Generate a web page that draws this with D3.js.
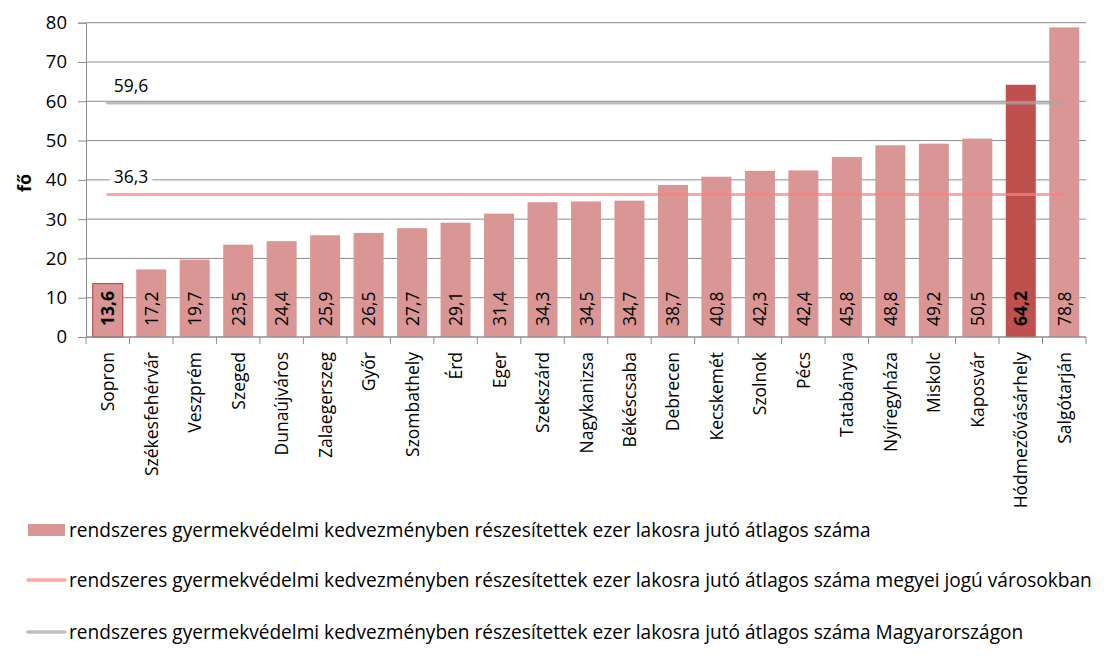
<!DOCTYPE html>
<html><head><meta charset="utf-8">
<script src="https://cdn.jsdelivr.net/npm/d3@7"></script>
<style>body{margin:0;background:#fff}svg{display:block}text{font-family:"Open Sans",sans-serif;fill:#000}</style>
</head><body><svg id="c" width="1111" height="659"></svg>
<script>
const cities=["Sopron","Székesfehérvár","Veszprém","Szeged","Dunaújváros","Zalaegerszeg","Győr","Szombathely","Érd","Eger","Szekszárd","Nagykanizsa","Békéscsaba","Debrecen","Kecskemét","Szolnok","Pécs","Tatabánya","Nyíregyháza","Miskolc","Kaposvár","Hódmezővásárhely","Salgótarján"];
const values=[13.6,17.2,19.7,23.5,24.4,25.9,26.5,27.7,29.1,31.4,34.3,34.5,34.7,38.7,40.8,42.3,42.4,45.8,48.8,49.2,50.5,64.2,78.8];
const avgCounty=36.3;
const avgHungary=59.6;
const yTicks=[0,10,20,30,40,50,60,70,80];
const legendLabels=["rendszeres gyermekvédelmi kedvezményben részesítettek ezer lakosra jutó átlagos száma","rendszeres gyermekvédelmi kedvezményben részesítettek ezer lakosra jutó átlagos száma megyei jogú városokban","rendszeres gyermekvédelmi kedvezményben részesítettek ezer lakosra jutó átlagos száma Magyarországon"];

const svg=d3.select("#c");
const L=86,R=1086,T=22.7,B=337;
const x=d3.scaleBand().domain(cities).range([L,R]).paddingInner(0.31).paddingOuter(0.155);
const y=d3.scaleLinear().domain([0,80]).range([B,T]);
const fmt=v=>String(v).replace(".",",");

svg.append("g").selectAll("line").data(yTicks).join("line")
 .attr("x1",L).attr("x2",R).attr("y1",d=>y(d)).attr("y2",d=>y(d)).attr("stroke","#8c8c8c").attr("stroke-width",1);

const ya=svg.append("g").attr("transform",`translate(${L},0)`).call(d3.axisLeft(y).tickValues(yTicks).tickSize(8).tickPadding(11));
ya.select(".domain").attr("stroke","#8c8c8c");
ya.selectAll(".tick line").attr("stroke","#8c8c8c");
ya.selectAll("text").style("font-size","18.5px").style("font-family","'Open Sans',sans-serif").attr("fill","#000");

svg.append("g").selectAll("rect").data(values).join("rect")
 .attr("x",(d,i)=>x(cities[i])).attr("width",x.bandwidth())
 .attr("y",d=>y(d)).attr("height",d=>B-y(d))
 .attr("fill",(d,i)=>cities[i]==="Hódmezővásárhely"?"#C0504D":"#D99694")
 .attr("stroke",(d,i)=>cities[i]==="Sopron"?"#C0504D":"none").attr("stroke-width",1.2);

const xa=svg.append("g").attr("transform",`translate(0,${B})`);
xa.append("line").attr("x1",L).attr("x2",R).attr("stroke","#8c8c8c");
const step=x.step();
xa.selectAll(".tk").data(d3.range(cities.length+1)).join("line")
 .attr("x1",i=>L+i*step).attr("x2",i=>L+i*step).attr("y1",0).attr("y2",7).attr("stroke","#8c8c8c");
xa.selectAll(".lab").data(cities).join("text")
 .attr("transform",d=>`translate(${x(d)+x.bandwidth()/2+6.5},15) rotate(-90)`)
 .attr("text-anchor","end").style("font-size","17.5px").text(d=>d);

svg.append("g").selectAll("text").data(values).join("text")
 .attr("transform",(d,i)=>`translate(${x(cities[i])+x.bandwidth()/2+6.5},${B-11}) rotate(-90)`)
 .attr("text-anchor","start").style("font-size","17.5px")
 .style("font-weight",(d,i)=>(cities[i]==="Sopron"||cities[i]==="Hódmezővásárhely")?"bold":"normal")
 .attr("fill",(d,i)=>cities[i]==="Hódmezővásárhely"?"#fff":"#000")
 .text(d=>fmt(d));

const x0=x(cities[0])+x.bandwidth()/2, x1=x(cities[cities.length-1])+x.bandwidth()/2;
svg.append("line").attr("x1",x0).attr("x2",x1).attr("y1",y(avgHungary)).attr("y2",y(avgHungary))
 .attr("stroke","#A6A6A6").attr("stroke-width",3.5).attr("stroke-opacity",0.75).attr("stroke-linecap","round");
svg.append("line").attr("x1",x0).attr("x2",x1).attr("y1",y(avgCounty)).attr("y2",y(avgCounty))
 .attr("stroke","#FF8080").attr("stroke-width",3).attr("stroke-opacity",0.7).attr("stroke-linecap","round");

[avgHungary,avgCounty].forEach(v=>{
  const t=svg.append("text").attr("x",x0+6).attr("y",y(v)-11).style("font-size","17.5px").text(fmt(v));
  const bb=t.node().getBBox();
  svg.insert("rect",()=>t.node()).attr("x",bb.x-4).attr("y",bb.y).attr("width",bb.width+8).attr("height",bb.height).attr("fill","#fff");
});

svg.append("text").attr("transform","translate(31,183) rotate(-90)").attr("text-anchor","middle")
 .style("font-size","18px").style("font-weight","bold").text("fő");

const lg=svg.append("g");
const ly=[530,580,632];
lg.append("rect").attr("x",28).attr("y",ly[0]-6).attr("width",37).attr("height",12).attr("fill","#D99694");
lg.append("line").attr("x1",28).attr("x2",65).attr("y1",ly[1]).attr("y2",ly[1]).attr("stroke","#FFA6A6").attr("stroke-width",3.5).attr("stroke-linecap","round");
lg.append("line").attr("x1",28).attr("x2",65).attr("y1",ly[2]).attr("y2",ly[2]).attr("stroke","#BFBFBF").attr("stroke-width",3.5).attr("stroke-linecap","round");
lg.selectAll("text").data(legendLabels).join("text").attr("x",69).attr("y",(d,i)=>ly[i]+6.5)
 .style("font-size","19.1px").text(d=>d);
</script></body></html>
